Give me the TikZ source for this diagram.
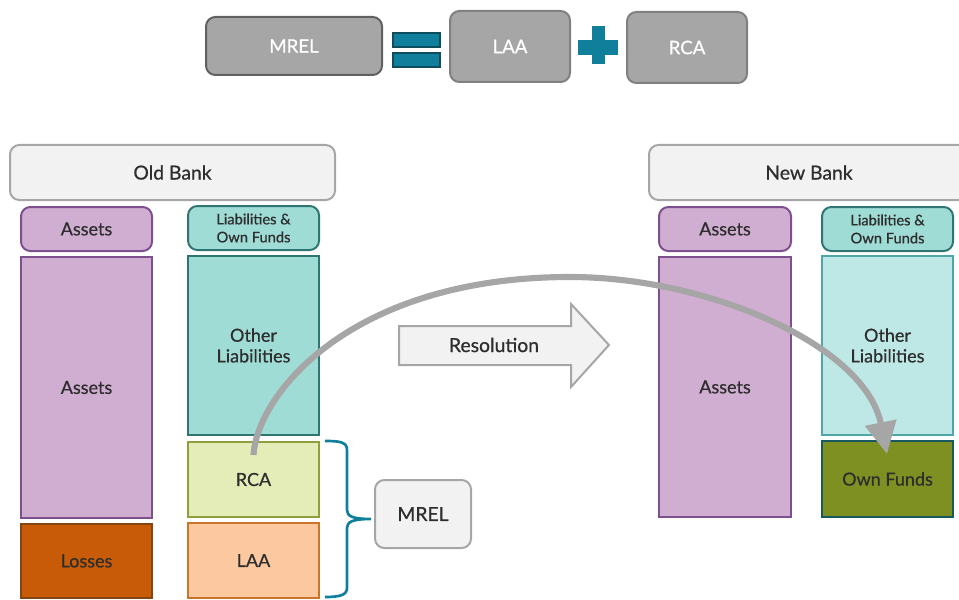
\documentclass[tikz,border=0pt]{standalone}
\usepackage{fontspec}
\setmainfont{Lato}[RawFeature={embolden=0.7}]
\usetikzlibrary{arrows.meta,calc,shapes.arrows}
\definecolor{purf}{HTML}{D0AED2}\definecolor{purd}{HTML}{7D4F8C}
\definecolor{teaf}{HTML}{9FDCD6}\definecolor{tead}{HTML}{2F7673}
\definecolor{ligf}{HTML}{BEE8E6}\definecolor{ligd}{HTML}{4FA6A6}
\definecolor{olif}{HTML}{7F9022}\definecolor{olid}{HTML}{17595F}
\definecolor{rcaf}{HTML}{E4ECB8}\definecolor{rcad}{HTML}{8F9F3B}
\definecolor{laaf}{HTML}{FBC8A0}\definecolor{laad}{HTML}{C9752C}
\definecolor{losf}{HTML}{C75B07}\definecolor{losd}{HTML}{85450F}
\definecolor{gref}{HTML}{A6A6A6}\definecolor{gred}{HTML}{808080}
\definecolor{paleg}{HTML}{F2F2F2}\definecolor{blu}{HTML}{0F7F9C}\definecolor{blud}{HTML}{0E4C5E}
\definecolor{ink}{HTML}{2E2E2E}
\tikzset{
  base/.style={draw,line width=1.5pt,inner sep=0pt,align=center,text=ink,font=\fontsize{13.5}{15.5}\selectfont},
  round/.style={rounded corners=7pt},
  purple/.style={base,fill=purf,draw=purd},
  heada/.style={purple,round},
  headl/.style={base,round,fill=teaf,draw=tead,font=\fontsize{11}{13.5}\selectfont},
  otherold/.style={base,fill=teaf,draw=tead},
  othernew/.style={base,fill=ligf,draw=ligd},
  olive/.style={base,fill=olif,draw=olid},
  rcabox/.style={base,fill=rcaf,draw=rcad},
  laabox/.style={base,fill=laaf,draw=laad},
  lossbox/.style={base,fill=losf,draw=losd},
  greybox/.style={base,round,fill=gref,draw=gred,text=white,font=\fontsize{14}{16}\selectfont},
  palebox/.style={base,round,fill=paleg,draw=gref,font=\fontsize{14.5}{16}\selectfont},
  sym/.style={fill=blu,draw=blud,line width=1.2pt},
  plus/.style={fill=blu,draw=none},
  bracket/.style={draw=blu,line width=2pt},
  swoop/.style={draw=gref,line width=4.6pt,-{Triangle[length=24pt,width=23pt]}},
}
% \bx{name}{x1}{y1}{x2}{y2}{style}{text}
\newcommand{\bx}[7]{\node[#6,minimum width=(#4-#2)*0.75pt,minimum height=(#5-#3)*0.75pt] (#1) at ({(#2+#4)/2},{(#3+#5)/2}) {#7};}
\begin{document}
\begin{tikzpicture}[x=0.75pt,y=-0.75pt]
\useasboundingbox (0,0) rectangle (959,599);
% top formula
\bx{mrel}{206}{17}{382}{75}{greybox,draw=gred!75!black}{MREL}
\bx{laa}{450}{11}{570}{82}{greybox}{LAA}
\bx{rca}{627}{12}{747}{83}{greybox}{RCA}
\draw[sym] (393,33) rectangle (440,47);
\draw[sym] (393,53) rectangle (440,67);
\fill[plus] (592,26) rectangle (605,64);
\fill[plus] (578,40) rectangle (618,55);
% old bank
\bx{old}{10}{145}{335}{200}{palebox}{Old Bank}
\bx{oa}{21}{207}{152}{251}{heada}{Assets}
\bx{ol}{188}{206}{319}{250}{headl}{Liabilities \&\\Own Funds}
\bx{oassets}{21}{257}{152}{518}{purple}{Assets}
\bx{oother}{188}{256}{319}{435}{otherold}{Other\\Liabilities}
\bx{orca}{188}{442}{319}{517}{rcabox}{RCA}
\bx{olaa}{188}{523}{319}{598}{laabox}{LAA}
\bx{oloss}{21}{524}{152}{598}{lossbox}{Losses}
\bx{omrel}{375}{480}{471}{548}{palebox}{MREL}
\coordinate (btop) at (325,441);
\coordinate (bbot) at (325,597);
\draw[bracket] (btop) .. controls (340,441) and (347,442) .. (347,450)
  -- (347,510) .. controls (347,516) and (352,519) .. (371,519)
  .. controls (352,519) and (347,522) .. (347,528)
  -- (347,588) .. controls (347,595) and (340,597) .. (bbot);
% resolution arrow
\draw[line width=1.5pt,draw=gref,fill=paleg,line join=miter] (399,326) -- (571,326) -- (571,304) -- (609,345) -- (571,387) -- (571,365) -- (399,365) -- cycle;
\node[text=ink,font=\fontsize{14.5}{16}\selectfont,inner sep=0pt] (res) at (494,345) {Resolution};
% new bank
\begin{scope}
\clip (640,140) rectangle (959,205);
\bx{new}{649}{145}{975}{200}{palebox}{}
\end{scope}
\node[text=ink,font=\fontsize{14.5}{16}\selectfont,inner sep=0pt] (newt) at (809,172.5) {New Bank};
\bx{na}{659}{207}{791}{251}{heada}{Assets}
\bx{nl}{822}{207}{953}{251}{headl}{Liabilities \&\\Own Funds}
\bx{nassets}{659}{257}{791}{517}{purple}{Assets}
\bx{nother}{822}{256}{953}{435}{othernew}{Other\\Liabilities}
\bx{nown}{822}{441}{953}{517}{olive}{Own Funds}
% swoop
\coordinate (peak) at (570,277);
\draw[swoop] ($(orca.north)+(0,14)$) .. controls (257,395) and (350,277) .. (peak)
  .. controls (708,277) and (865,345) .. ($(nown.north)+(-0.5,14)$);
\end{tikzpicture}
\end{document}
